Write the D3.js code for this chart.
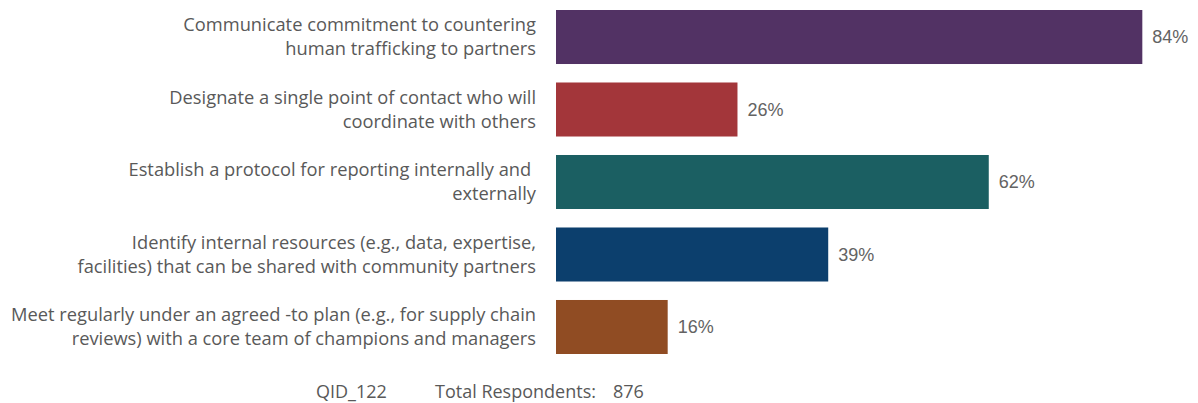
<!DOCTYPE html>
<html>
<head>
<meta charset="utf-8">
<script src="https://cdn.jsdelivr.net/npm/d3@7"></script>
<style>
    html, body { margin: 0; padding: 0; background: #fff; }
    .chart { width: 1198px; height: 403px; }
    text { white-space: pre; }
</style>
</head>
<body>
<div class="chart"></div>
<script>
    /* adatok */
    const categories = [
        ['Communicate commitment to countering', 'human trafficking to partners'],
        ['Designate a single point of contact who will', 'coordinate with others'],
        ['Establish a protocol for reporting internally and ', 'externally'],
        ['Identify internal resources (e.g., data, expertise,', 'facilities) that can be shared with community partners'],
        ['Meet regularly under an agreed -to plan (e.g., for supply chain', 'reviews) with a core team of champions and managers']
    ];
    const values = [84, 26, 62, 39, 16];
    const colors = ['#523264', '#a3363a', '#1b5f62', '#0c3f6d', '#904c23'];
    const footer = [['QID_122', 316], ['Total Respondents:', 435], ['876', 613]];

    const width = 1198;
    const height = 403;

    const svg = d3.select('.chart').append('svg')
        .attr('width', width)
        .attr('height', height);

    /* skálák */
    const x = d3.scaleLinear().domain([0, 100]).range([556, 556 + 698]);
    const y = d3.scaleBand().domain(d3.range(categories.length))
        .range([10, 354]).paddingInner(0.255).paddingOuter(0);

    /* oszlopok */
    svg.selectAll('.bar').data(values)
        .enter().append('rect')
        .attr('class', 'bar')
        .attr('x', x(0))
        .attr('y', function (d, i) { return y(i); })
        .attr('width', function (d) { return x(d) - x(0); })
        .attr('height', y.bandwidth())
        .attr('fill', function (d, i) { return colors[i]; });

    /* értékcímkék */
    svg.selectAll('.value').data(values)
        .enter().append('text')
        .attr('class', 'value')
        .attr('x', function (d) { return x(d) + 10; })
        .attr('y', function (d, i) { return y(i) + y.bandwidth() / 2; })
        .attr('dy', '.35em')
        .style('font-family', '"Liberation Sans", Arial, sans-serif')
        .style('font-size', '18px')
        .attr('fill', '#636363')
        .text(function (d) { return d + '%'; });

    /* kategóriacímkék */
    const lineH = 24;
    const cats = svg.selectAll('.cat').data(categories)
        .enter().append('text')
        .attr('class', 'cat')
        .attr('text-anchor', 'end')
        .style('font-family', '"Open Sans", sans-serif')
        .style('font-size', '18.3px')
        .attr('fill', '#595959');
    cats.each(function (lines, i) {
        const cy = y(i) + y.bandwidth() / 2;
        d3.select(this).selectAll('tspan').data(lines)
            .enter().append('tspan')
            .attr('x', 536)
            .attr('y', function (d, j) { return cy + (j - (lines.length - 1) / 2) * lineH; })
            .attr('dy', '.35em')
            .text(function (d) { return d; });
    });

    /* lábléc */
    svg.selectAll('.footer').data(footer)
        .enter().append('text')
        .attr('class', 'footer')
        .attr('x', function (d) { return d[1]; })
        .attr('y', 392)
        .attr('dy', '.35em')
        .style('font-family', '"Open Sans", sans-serif')
        .style('font-size', '18px')
        .attr('fill', '#595959')
        .text(function (d) { return d[0]; });
</script>
</body>
</html>
